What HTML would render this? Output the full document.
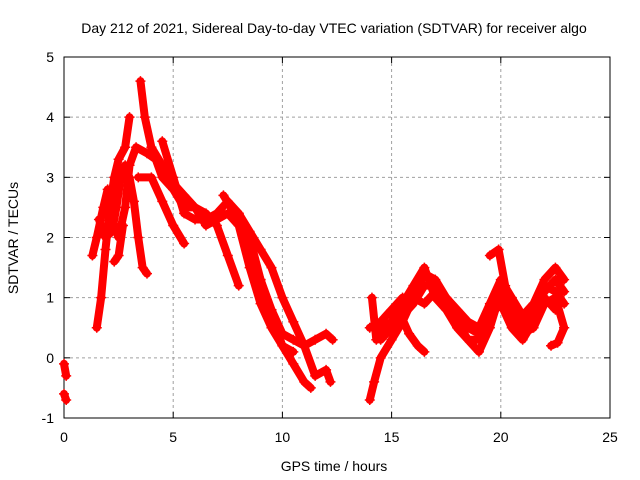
<!DOCTYPE html>
<html><head><meta charset="utf-8"><style>
body{margin:0;background:#fff}
svg{display:block;font-family:"Liberation Sans",sans-serif}
</style></head><body>
<svg id="chart" width="640" height="480" viewBox="0 0 640 480">
<rect width="640" height="480" fill="#fff"/>
<text x="334" y="33" font-size="14" text-anchor="middle" fill="#000">Day 212 of 2021, Sidereal Day-to-day VTEC variation (SDTVAR) for receiver algo</text>
<g id="grid"></g>
<g id="axes"></g>
<g id="series"></g>
<text x="334" y="471" font-size="14" text-anchor="middle">GPS time / hours</text>
<text transform="translate(18,238) rotate(-90)" font-size="14" text-anchor="middle">SDTVAR / TECUs</text>
</svg>
<script>
const xTicks=[0,5,10,15,20,25];
const yTicks=[-1,0,1,2,3,4,5];
const traceA=[[0,-0.1],[0.1,-0.3]];
const traceA2=[[0,-0.6],[0.1,-0.7]];
const traceB=[[1.5,0.5],[1.7,1.0],[1.9,1.8],[2.1,2.5],[2.3,3.0],[2.5,3.3],[2.8,3.5],[3.0,4.0]];
const traceC=[[1.3,1.7],[1.5,2.0],[1.8,2.5],[2.0,2.8],[2.2,2.3],[2.5,2.0],[2.8,2.5],[3.0,3.2],[3.3,3.5],[3.8,3.4],[4.2,3.3],[4.5,3.0],[5,2.8],[5.5,2.5],[6,2.5],[6.5,2.4],[7,2.2],[7.5,1.7],[8,1.2]];
const traceD=[[3.5,4.6],[3.7,4.0],[4.0,3.5],[4.5,3.2],[5,2.9],[5.5,2.7],[6,2.5],[6.5,2.2],[7,2.3],[7.5,2.4],[8,2.2],[8.5,1.5],[9,0.9],[9.5,0.5],[10,0.2],[10.5,0.1]];
const traceE=[[3.0,3.0],[3.2,2.6],[3.4,2.0],[3.6,1.5],[3.8,1.4]];
const traceF=[[4.5,3.6],[5,3.0],[5.5,2.4],[6,2.3],[6.5,2.3],[7,2.4],[7.5,2.6],[8,2.4],[8.5,2.1],[9,1.8],[9.5,1.5],[10,1.0],[10.5,0.6],[11,0.2],[11.5,-0.3],[12,-0.2],[12.2,-0.4]];
const traceG=[[3.4,3.0],[4,3.0],[4.5,2.6],[5,2.2],[5.5,1.9]];
const traceH=[[7.3,2.7],[8,2.3],[8.5,1.8],[9,1.3],[9.5,0.8],[10,0.4],[10.5,0.3],[11,0.2],[11.5,0.3],[12,0.4],[12.3,0.3]];
const traceI=[[8,2.4],[8.5,2.0],[9,1.3],[9.5,0.7],[10,0.2],[10.5,-0.1],[11,-0.4],[11.3,-0.5]];
const traceJ=[[14,-0.7],[14.2,-0.4],[14.5,0.0],[15,0.3],[15.5,0.6],[16,1.0],[16.5,1.4],[17,1.3],[17.5,1.0],[18,0.6],[18.5,0.3],[19,0.1],[19.5,0.5],[20,1.1],[20.5,0.9],[21,0.6],[21.5,0.8],[22,1.2],[22.5,1.1],[22.9,0.9]];
const traceK=[[14,0.5],[14.5,0.6],[15,0.8],[15.5,1.0],[16,1.0],[16.5,0.9],[17,1.1],[17.5,1.0],[18,0.8],[18.5,0.6],[19,0.5],[19.5,0.9],[20,1.3],[20.5,1.0],[21,0.7],[21.5,0.9],[22,1.3],[22.5,1.5],[22.9,1.3]];
const traceL=[[14.1,1.0],[14.3,0.3],[14.6,0.5],[15,0.6],[15.5,0.9],[16,1.2],[16.5,1.5],[17,1.0],[17.5,0.8],[18,0.5],[18.5,0.3],[19,0.3],[19.5,0.7],[20,0.9],[20.5,0.5],[21,0.3],[21.5,0.6],[22,1.0],[22.5,0.8]];
const traceM=[[19.5,1.7],[19.9,1.8],[20.2,1.2],[20.5,0.8],[21,0.4],[21.5,0.5],[22,0.9],[22.5,1.0],[22.9,0.5]];
const traceN=[[15.3,0.8],[15.8,0.4],[16.2,0.2],[16.5,0.1]];
const traceO=[[22.3,0.2],[22.6,0.25],[22.9,0.5]];
const traceP=[[1.6,2.3],[1.9,2.0],[2.2,2.1],[2.4,2.5],[2.6,3.0],[2.8,3.2]];
const traceQ=[[2.3,1.6],[2.5,1.7],[2.7,2.2]];
const traceR=[[14.5,0.3],[15,0.5],[15.5,0.7],[16,0.9],[16.5,1.2],[17,1.2],[17.5,0.9],[18,0.7],[18.5,0.5],[19,0.4],[19.5,0.6],[20,1.0],[20.5,0.7],[21,0.5],[21.5,0.7],[22,1.1],[22.5,1.3],[22.9,1.1]];
const traces=[traceA,traceA2,traceB,traceC,traceD,traceE,traceF,traceG,traceH,traceI,traceJ,traceK,traceL,traceM,traceN,traceO,traceP,traceQ,traceR];

const NS="http://www.w3.org/2000/svg";
const L=64,R=610,T=57,B=418,xMin=0,xMax=25,yMin=-1,yMax=5;
const sx=v=>L+(v-xMin)/(xMax-xMin)*(R-L);
const sy=v=>B-(v-yMin)/(yMax-yMin)*(B-T);
function mk(tag,attrs,parent){const e=document.createElementNS(NS,tag);for(const k in attrs)e.setAttribute(k,attrs[k]);parent.appendChild(e);return e;}
const grid=document.getElementById('grid'),axes=document.getElementById('axes'),series=document.getElementById('series');
xTicks.forEach(t=>{
  if(t>xMin&&t<xMax){const g=mk('line',{x1:sx(t),x2:sx(t),y1:T,y2:B,stroke:'#a0a0a0','stroke-dasharray':'3,3'},grid);
  
  }
  mk('line',{x1:sx(t),x2:sx(t),y1:B,y2:B-6,stroke:'#000'},axes);
  mk('line',{x1:sx(t),x2:sx(t),y1:T,y2:T+6,stroke:'#000'},axes);
  const lb=mk('text',{x:sx(t),y:B+24,'font-size':14,'text-anchor':'middle'},axes);lb.textContent=t;
  
  
});
yTicks.forEach(t=>{
  if(t>yMin&&t<yMax){const g=mk('line',{x1:L,x2:R,y1:sy(t),y2:sy(t),stroke:'#a0a0a0','stroke-dasharray':'3,3'},grid);
  
  }
  mk('line',{x1:L,x2:L+6,y1:sy(t),y2:sy(t),stroke:'#000'},axes);
  mk('line',{x1:R,x2:R-6,y1:sy(t),y2:sy(t),stroke:'#000'},axes);
  const lb=mk('text',{x:L-10,y:sy(t)+5,'font-size':14,'text-anchor':'end'},axes);lb.textContent=t;
  
  
});
mk('rect',{x:L,y:T,width:R-L,height:B-T,fill:'none',stroke:'#000'},axes);
traces.forEach(tr=>{
  const pl=mk('polyline',{points:tr.map(p=>sx(p[0])+','+sy(p[1])).join(' '),fill:'none',stroke:'#f00','stroke-width':8,'stroke-linejoin':'round','stroke-linecap':'round'},series);
  
  
  tr.forEach(p=>{
    const x=sx(p[0]),y=sy(p[1]);
    const m=mk('path',{d:`M${x-5},${y}h10M${x},${y-5}v10`,stroke:'#f00','stroke-width':1.5},series);
    
    
  });
});
</script>
</body></html>
